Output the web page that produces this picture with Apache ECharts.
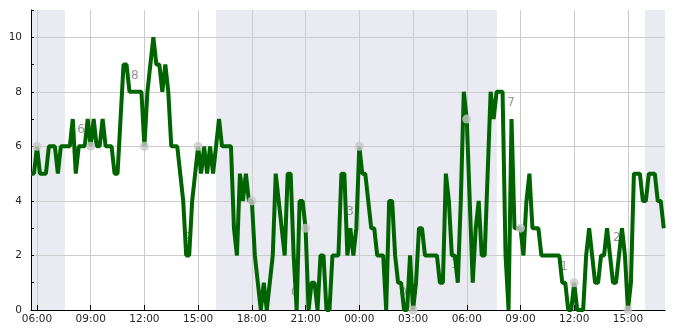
<!DOCTYPE html>
<html>
<head>
<meta charset="utf-8">
<script src="https://cdn.jsdelivr.net/npm/echarts@6/dist/echarts.min.js"></script>
<style>
html,body{margin:0;padding:0;background:#fff;}
#chart{width:685px;height:330px;}
</style>
</head>
<body>
<div id="chart"></div>
<script>
// Sampling: 10-minute observations starting 05:40 (hours counted from day-1 midnight)
const startHour = 5 + 40 / 60;
const stepMinutes = 10;
const windValues = [
  5,5,6,5,5,5,6,6,6,5,
  6,6,6,6,7,5,6,6,6,7,
  6,7,6,6,7,6,6,6,5,5,
  7,9,9,8,8,8,8,8,6,8,
  9,10,9,9,8,9,8,6,6,6,
  5,4,2,2,4,5,6,5,6,5,
  6,5,6,7,6,6,6,6,3,2,
  5,4,5,4,4,2,1,0,1,0,
  1,2,5,4,3,2,5,5,2,0,
  4,4,3,0,1,1,0,2,2,0,
  0,2,2,2,5,5,2,3,2,3,
  6,5,5,4,3,3,2,2,2,0,
  4,4,2,1,1,0,0,2,0,1,
  3,3,2,2,2,2,2,1,1,5,
  4,2,2,1,4,8,7,4,1,3,
  4,2,2,5,8,7,8,8,8,2,
  0,7,3,3,3,2,4,5,3,3,
  3,2,2,2,2,2,2,2,1,1,
  0,0,1,0,0,0,2,3,2,1,
  1,2,2,3,2,1,1,2,3,2,
  0,1,5,5,5,4,4,5,5,5,
  4,4,3
];
// 3-hourly observation points (grey dots)
const dotHours = [6, 9, 12, 15, 18, 21, 24, 27, 30, 33, 36, 39];
const dotValues = [6, 6, 6, 6, 4, 3, 6, 0, 7, 3, 1, 0];
// grey text labels
const labelHours = [8.46, 11.47, 14.43, 17.39, 20.40, 23.48, 26.44, 29.34, 32.47, 35.43, 38.38];
const labelValues = [6.59, 8.57, 2.64, 4.65, 0.62, 3.59, 0.62, 1.65, 7.58, 1.58, 2.64];
const labelTexts = ['6', '8', '2', '2', '0', '3', '0', '1', '7', '1', '2'];
// night periods (hours)
const nightStart = [5.667, 16.0, 39.95];
const nightEnd = [7.56, 31.68, 41.07];
// x tick labels
const tickHours = [6, 9, 12, 15, 18, 21, 24, 27, 30, 33, 36, 39];
const xMin = 5.667, xMax = 41.07;

const lineData = windValues.map((v, i) => [startHour + i * stepMinutes / 60, v]);
const dotData = dotHours.map((h, i) => [h, dotValues[i]]);
const labelData = labelHours.map((h, i) => ({ value: [h, labelValues[i]], name: labelTexts[i] }));
const nightAreas = nightStart.map((s, i) => [{ xAxis: s }, { xAxis: nightEnd[i] }]);

function fmtHour(v) {
  const h = Math.round(v) % 24;
  return (h < 10 ? '0' : '') + h + ':00';
}

const chart = echarts.init(document.getElementById('chart'), null, { renderer: 'canvas' });
chart.setOption({
  animation: false,
  backgroundColor: '#ffffff',
  textStyle: { fontFamily: 'DejaVu Sans' },
  grid: { left: 31, right: 20, top: 10, bottom: 20, containLabel: false },
  xAxis: {
    type: 'value', min: xMin, max: xMax, z: 5,
    axisLine: { show: true, onZero: false, lineStyle: { color: '#000', width: 1 } },
    axisTick: { show: true, inside: true, length: 5, customValues: tickHours, lineStyle: { color: '#000' } },
    axisLabel: { customValues: tickHours, formatter: fmtHour, color: '#262626', fontSize: 10.5, margin: 4, fontFamily: 'DejaVu Sans' },
    splitLine: { show: true, lineStyle: { color: '#cccccc', width: 1 } }
  },
  yAxis: {
    type: 'value', min: 0, max: 11, interval: 2, z: 5,
    axisLine: { show: true, lineStyle: { color: '#000', width: 1 } },
    axisTick: { show: true, inside: true, length: 3, lineStyle: { color: '#000' } },
    minorTick: { show: true, splitNumber: 2, length: 3, lineStyle: { color: '#000' } },
    axisLabel: { showMaxLabel: false, color: '#262626', fontSize: 10.5, margin: 9, fontFamily: 'DejaVu Sans' },
    splitLine: { show: true, showMaxLine: false, lineStyle: { color: '#cccccc', width: 1 } }
  },
  series: [
    {
      type: 'line', data: [], z: 1, silent: true,
      markArea: { silent: true, itemStyle: { color: '#eaeaf2' }, data: nightAreas }
    },
    {
      type: 'scatter', data: labelData, z: 6, symbolSize: 0, silent: true,
      label: { show: true, position: 'inside', formatter: p => p.name, color: '#7a7a7a', fontSize: 12, fontFamily: 'DejaVu Sans' }
    },
    {
      type: 'line', data: lineData, z: 7, showSymbol: false, symbol: 'none',
      lineStyle: { color: '#006400', width: 4 }
    },
    {
      type: 'scatter', data: dotData, z: 8, symbolSize: 9,
      itemStyle: { color: '#c8c8c8' }
    }
  ]
});
</script>
</body>
</html>
